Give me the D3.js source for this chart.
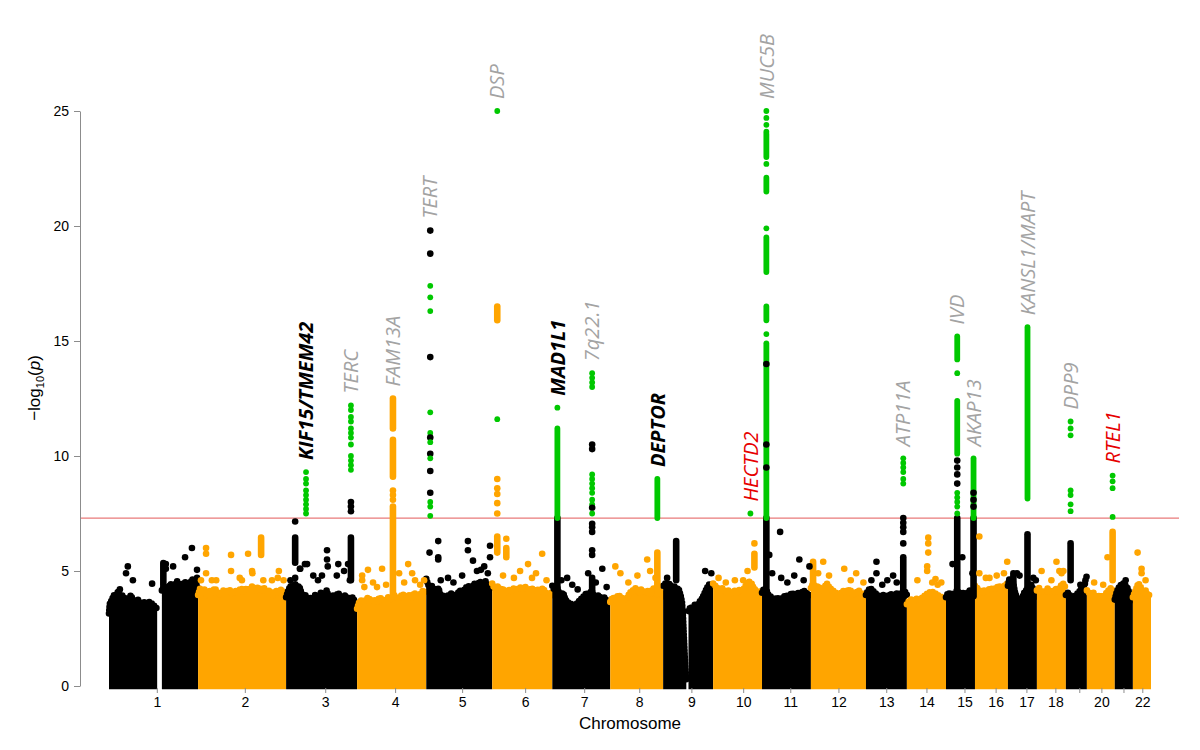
<!DOCTYPE html>
<html>
<head>
<meta charset="utf-8">
<script src="https://cdn.jsdelivr.net/npm/d3@7"></script>
<style>
  body { margin: 0; background: #fff; }
  .axis text { font-family: "Liberation Sans", Arial, sans-serif; font-size: 14px; fill: #000; }
  .axis path, .axis line { stroke: #8c8c8c; }
  .lab { font-family: "Open Sans", "Noto Sans", sans-serif; font-style: italic; font-size: 20px; }
</style>
</head>
<body>
<svg id="chart" width="1200" height="750"></svg>
<script>
// chromosomes (lengths in Mb, as spanned in the plot)
const chrNames = ["1","2","3","4","5","6","7","8","9","10","11","12","13","14","15","16","17","18","19","20","21","22"];
const chrLengths = [246,243,196,191,182,166,160,146,138,135,135,152,113,108,80,91,80,80,58,77,50,50];
// tick position inside each chromosome (Mb)
const chrTickPos = [132,129,108,105,99,91,88,80,78,83,78,76,56,54,51,57,51,51,37,40,24,26];
const hiddenTicks = ["19","21"];
const yTicks = [0,5,10,15,20,25];
const threshold = 7.3; // -log10(5e-8)

// top of the dense cloud of SNPs, per chromosome: [pos Mb, -log10 p], null = gap
const bgEnvelope = [
  [[0,3.3],[2,3.7],[8,3.9],[14,4.1],[20,3.9],[25,4.3],[30,4.0],[36,4.1],[42,3.9],[48,4.0],[54,3.8],[60,4.1],[66,3.9],[72,3.8],[80,3.9],[88,3.7],[96,3.8],[104,3.7],[112,3.8],[120,3.7],[127,3.6],[133,3.5],[135,null],[146,4.3],[152,4.5],[158,4.3],[164,4.4],[170,4.6],[176,4.4],[182,4.5],[188,4.7],[194,4.4],[200,4.6],[206,4.5],[212,4.7],[218,4.4],[224,4.6],[230,4.8],[236,4.5],[241,4.6],[246,4.3]],
  [[0,4.1],[6,4.4],[12,4.2],[18,4.35],[24,4.1],[30,4.3],[38,4.2],[46,4.4],[54,4.2],[62,4.1],[70,4.3],[78,4.2],[86,4.35],[94,4.15],[102,4.3],[110,4.2],[118,4.4],[126,4.25],[134,4.4],[142,4.3],[150,4.5],[158,4.3],[166,4.45],[174,4.3],[182,4.4],[190,4.25],[198,4.3],[206,4.1],[214,4.3],[222,4.2],[230,4.35],[238,4.1],[243,4.0]],
  [[0,4.0],[6,4.3],[12,4.5],[18,4.3],[24,4.6],[30,4.4],[36,4.5],[42,4.2],[48,4.0],[54,4.1],[60,3.9],[66,4.0],[72,3.85],[80,4.1],[88,3.9],[96,4.2],[104,4.0],[112,4.3],[120,3.9],[128,4.1],[136,4.0],[144,4.2],[152,3.9],[160,4.1],[168,4.0],[176,3.9],[184,4.0],[190,3.8],[196,3.7]],
  [[0,3.5],[6,3.8],[14,3.9],[22,3.8],[30,4.0],[38,3.85],[46,3.9],[54,3.8],[62,4.0],[70,3.9],[78,3.85],[86,4.0],[94,3.9],[102,4.1],[110,3.95],[118,4.0],[126,4.15],[134,3.95],[142,4.1],[150,4.0],[158,4.2],[166,4.0],[174,4.1],[182,4.3],[191,4.2]],
  [[0,4.8],[4,4.6],[10,4.4],[16,4.5],[22,4.3],[28,4.2],[34,4.4],[40,4.0],[46,4.1],[52,3.95],[58,4.1],[64,4.0],[70,4.2],[76,4.0],[84,4.1],[92,4.3],[100,4.2],[108,4.4],[116,4.5],[124,4.3],[132,4.6],[140,4.5],[148,4.7],[156,4.5],[164,4.7],[172,4.4],[178,4.5],[182,4.3]],
  [[0,4.6],[6,4.4],[14,4.5],[20,4.3],[28,4.4],[36,4.2],[44,4.35],[52,4.25],[60,4.4],[68,4.3],[76,4.45],[84,4.35],[92,4.45],[100,4.3],[108,4.4],[116,4.3],[124,4.35],[132,4.25],[140,4.4],[148,4.2],[156,4.1],[162,4.2],[166,4.0]],
  [[0,4.5],[6,4.3],[12,4.5],[18,4.2],[24,4.1],[30,4.2],[36,3.9],[42,3.8],[48,3.7],[54,3.75],[60,3.6],[66,3.7],[72,3.8],[78,3.9],[84,4.0],[90,4.1],[96,4.2],[102,4.0],[108,4.3],[114,4.1],[120,4.0],[128,4.1],[136,3.9],[144,4.0],[152,3.8],[160,3.7]],
  [[0,3.8],[6,4.0],[14,3.9],[22,4.1],[30,4.0],[38,3.9],[46,3.95],[54,4.2],[62,4.3],[70,4.4],[78,4.2],[86,4.35],[94,4.2],[102,4.3],[110,4.1],[118,4.4],[126,4.3],[134,4.4],[140,4.2],[146,4.0]],
  [[0,4.5],[6,4.6],[12,4.4],[18,4.6],[24,4.4],[30,4.5],[36,4.3],[42,4.4],[48,4.1],[52,3.8],[55,3.1],[58,2.0],[61,1.0],[64,0.4],[66,null],[70,3.4],[76,3.6],[82,3.5],[88,3.7],[94,3.6],[100,3.8],[106,3.9],[112,4.1],[118,4.3],[124,4.5],[130,4.6],[138,4.5]],
  [[0,4.6],[6,4.5],[12,4.4],[18,4.3],[26,4.4],[34,4.2],[42,4.3],[50,4.15],[58,4.3],[66,4.2],[74,4.35],[82,4.3],[90,4.5],[98,4.7],[106,4.6],[112,4.4],[118,4.3],[124,4.2],[130,4.3],[135,4.1]],
  [[0,4.2],[6,4.4],[12,4.3],[18,4.1],[26,4.0],[34,3.9],[42,4.0],[50,3.85],[58,4.0],[66,4.1],[74,4.0],[82,4.2],[90,4.1],[98,4.2],[106,4.1],[114,4.3],[122,4.2],[130,4.1],[135,4.0]],
  [[0,4.4],[6,4.6],[12,4.4],[20,4.5],[28,4.3],[36,4.4],[44,4.6],[52,4.4],[60,4.3],[68,4.2],[76,4.1],[84,4.2],[92,4.3],[100,4.25],[108,4.35],[116,4.1],[124,4.2],[132,4.3],[140,4.1],[146,4.2],[152,4.0]],
  [[0,4.1],[6,4.3],[12,4.4],[18,4.3],[24,4.2],[32,4.1],[40,4.0],[48,4.1],[56,4.0],[64,4.1],[72,4.15],[80,4.1],[88,4.2],[96,4.1],[104,4.3],[110,4.2],[113,4.1]],
  [[0,3.7],[6,3.85],[12,3.9],[20,3.85],[28,3.95],[36,3.9],[44,4.0],[52,4.1],[60,4.2],[68,4.25],[76,4.2],[84,4.1],[92,4.05],[100,3.95],[108,3.9]],
  [[0,4.0],[6,4.2],[12,4.1],[18,4.2],[24,4.1],[30,4.3],[36,4.2],[42,4.1],[48,4.2],[54,4.1],[60,4.2],[66,4.3],[72,4.25],[80,4.3]],
  [[0,4.5],[6,4.4],[12,4.3],[18,4.2],[26,4.3],[34,4.25],[42,4.4],[50,4.35],[58,4.4],[66,4.5],[74,4.4],[82,4.5],[88,4.6],[91,4.5]],
  [[0,4.5],[4,4.8],[8,4.7],[12,4.8],[16,4.5],[20,4.2],[24,4.0],[28,3.9],[32,3.8],[36,3.8],[40,4.0],[45,4.2],[50,4.3],[54,4.4],[58,4.5],[62,4.6],[66,4.5],[70,4.3],[75,4.1],[80,4.0]],
  [[0,4.3],[6,4.4],[12,4.2],[18,4.3],[24,4.2],[30,4.4],[36,4.2],[42,4.3],[48,4.2],[54,4.4],[60,4.3],[66,4.5],[72,4.6],[76,4.5],[80,4.4]],
  [[0,4.1],[5,4.2],[10,4.1],[16,4.05],[22,4.0],[28,4.1],[34,4.2],[40,4.3],[46,4.5],[52,4.6],[58,4.5]],
  [[0,4.3],[6,4.2],[12,4.1],[18,4.2],[24,4.0],[30,4.1],[36,4.0],[42,4.1],[48,4.0],[54,4.2],[60,4.3],[66,4.4],[72,4.3],[77,4.2]],
  [[0,3.9],[5,4.2],[10,4.4],[15,4.5],[20,4.6],[25,4.6],[30,4.5],[35,4.4],[40,4.2],[45,4.0],[50,3.8]],
  [[0,4.0],[5,4.2],[10,4.4],[15,4.6],[20,4.5],[25,4.3],[30,4.2],[35,4.3],[40,4.1],[45,4.1],[50,4.0]]
];

// runs of overlapping SNPs: [chr, pos Mb, from, to, hit]
const columns = [
  [1,150,4.4,5.35,0],
  [3,25,5.36,6.45,0],[3,179,4.6,6.45,0],
  [4,99,11.2,12.5,0],[4,99,9.1,10.7,0],[4,99,3.9,7.8,0],
  [6,14,15.9,16.5,0],[6,14,5.8,6.5,0],[6,39,5.6,6.0,0],
  [7,14,3.9,7.3,0],[7,110,3.8,4.7,0],
  [8,130,4.0,5.8,0],[9,36,4.6,6.3,0],[10,114,5.15,5.75,0],
  [11,12,3.9,7.3,0],[12,6,4.3,5.4,0],[13,103,4.0,5.6,0],
  [15,31,3.9,7.3,0],[15,76,3.9,7.3,0],
  [17,54,3.9,6.6,0],[17,15,4.1,4.9,0],[19,13,4.6,6.2,0],[20,71,4.6,6.7,0],[2,174,5.7,6.45,0],
  [7,14,7.3,11.2,1],[8,130,7.3,9.0,1],
  [11,12,7.3,14.9,1],[11,12,15.9,16.5,1],[11,12,18.0,19.5,1],[11,12,21.5,22.1,1],[11,12,23.0,24.0,1],
  [15,31,10.1,12.4,1],[15,31,14.2,15.2,1],[15,76,7.3,9.9,1],[17,54,8.15,15.6,1]
];

// single SNPs: [chr, pos Mb, -log10 p, hit]
const points = [
  [1,52,5.2,0],[1,47,4.9,0],[1,66,4.6,0],[1,119,4.45,0],[1,30,4.2,0],[1,157,5.3,0],[1,157,5.1,0],[1,177,5.2,0],[1,210,5.6,0],[1,229,6.0,0],[1,243,5.05,0],[1,243,4.7,0],
  [2,22,6.0,0],[2,22,5.75,0],[2,22,4.9,0],[2,91,5.7,0],[2,91,5.0,0],[2,138,5.75,0],[2,149,5.0,0],[2,223,5.0,0],[2,121,4.6,0],[2,204,4.6,0],[2,38,4.6,0],
  [2,8,4.6,0],[2,50,4.6,0],[2,115,4.7,0],[2,150,4.9,0],[2,180,4.6,0],[2,220,4.7,0],[2,236,4.6,0],
  [3,25,7.15,0],[3,25,4.7,0],[3,113,5.9,0],[3,113,5.5,0],[3,144,5.3,0],[3,171,5.3,0],[3,75,4.8,0],[3,39,5.1,0],[3,58,5.3,0],[3,179,8.0,0],[3,179,7.8,0],[3,179,7.6,0],
  [3,12,4.6,0],[3,38,5.1,0],[3,52,5.3,0],[3,88,4.6,0],[3,99,4.8,0],[3,115,5.2,0],[3,140,4.8,0],[3,160,5.0,0],[3,176,4.6,0],
  [3,55,9.3,1],[3,55,9.0,1],[3,55,8.8,1],[3,55,8.5,1],[3,55,8.3,1],[3,55,8.1,1],[3,55,7.9,1],[3,55,7.7,1],[3,55,7.5,1],
  [3,179,12.2,1],[3,179,12.0,1],[3,179,11.7,1],[3,179,11.5,1],[3,179,11.2,1],[3,179,11.0,1],[3,179,10.8,1],[3,179,10.5,1],[3,179,10.0,1],[3,179,9.8,1],[3,179,9.6,1],[3,179,9.4,1],
  [4,69,5.1,0],[4,141,5.3,0],[4,152,4.9,0],[4,30,5.05,0],[4,14,4.8,0],[4,14,4.6,0],[4,44,4.5,0],[4,174,4.4,0],[4,116,4.9,0],[4,99,8.5,0],[4,99,8.3,0],[4,99,8.1,0],
  [4,20,4.3,0],[4,55,4.3,0],[4,80,4.4,0],[4,130,4.5,0],[4,160,4.6,0],[4,185,4.6,0],
  [5,60,4.7,0],[5,99,4.8,0],[5,115,6.3,0],[5,115,5.9,0],[5,129,5.45,0],[5,151,5.05,0],[5,176,6.1,0],[5,176,5.6,0],[5,9,5.8,0],[5,33,6.3,0],[5,33,5.6,0],[5,33,5.5,0],
  [5,40,4.6,0],[5,75,4.5,0],[5,140,5.0,0],[5,160,5.2,0],[5,170,4.9,0],
  [5,11,19.8,0],[5,11,18.8,0],[5,11,17.4,1],[5,11,16.9,1],[5,11,16.3,1],[5,11,14.3,0],[5,11,11.9,1],[5,11,11.0,1],[5,11,10.8,0],[5,11,10.6,1],[5,11,10.1,0],[5,11,9.9,1],[5,11,9.35,0],[5,11,8.4,0],[5,11,8.0,1],[5,11,7.8,1],[5,11,7.4,1],
  [6,77,5.0,0],[6,99,5.3,0],[6,121,4.9,0],[6,138,5.75,0],[6,39,6.4,0],[6,14,9.0,0],[6,14,8.6,0],[6,14,8.35,0],[6,14,7.95,0],[6,14,7.5,0],[6,14,25.0,1],[6,14,11.6,1],
  [6,30,4.8,0],[6,60,4.7,0],[6,110,4.7,0],[6,150,4.6,0],
  [7,41,4.7,0],[7,55,4.4,0],[7,99,4.9,0],[7,138,5.1,0],[7,14,12.1,1],
  [7,25,4.6,0],[7,70,4.2,0],[7,120,4.5,0],[7,150,4.3,0],
  [7,110,13.6,1],[7,110,13.4,1],[7,110,13.2,1],[7,110,13.0,1],[7,110,10.5,0],[7,110,10.3,0],[7,110,9.2,1],[7,110,9.0,1],[7,110,8.8,1],[7,110,8.6,1],[7,110,8.4,1],[7,110,8.1,1],[7,110,7.9,1],[7,110,7.75,0],[7,110,7.5,1],[7,110,7.05,0],[7,110,6.9,0],[7,110,6.7,0],[7,110,5.9,0],[7,110,5.7,0],
  [8,14,5.2,0],[8,28,4.9,0],[8,102,5.5,0],[8,110,5.0,0],[8,50,4.5,0],[8,75,4.8,0],[8,125,4.7,0],
  [9,11,4.7,0],[9,116,5.0,0],[9,133,4.9,0],
  [10,83,4.6,0],[10,114,6.2,0],[10,15,4.7,0],[10,35,4.5,0],[10,60,4.6,0],[10,95,5.0,0],[10,103,7.5,1],
  [11,20,5.7,0],[11,28,4.9,0],[11,53,4.7,0],[11,89,4.8,0],[11,103,5.5,0],[11,131,5.2,0],[11,50,6.7,0],[11,70,4.5,0],[11,115,4.6,0],
  [11,12,25.0,1],[11,12,24.7,1],[11,12,24.4,1],[11,12,24.1,1],[11,12,22.7,1],[11,12,19.9,1],[11,12,15.3,1],[11,12,14.0,0],[11,12,10.5,0],[11,12,9.5,0],
  [12,34,5.4,0],[12,92,5.1,0],[12,125,4.9,0],[12,20,4.9,0],[12,50,4.8,0],[12,110,4.6,0],[12,145,4.5,0],
  [13,29,5.4,0],[13,29,4.9,0],[13,59,4.6,0],[13,75,4.8,0],[13,15,4.6,0],[13,45,4.4,0],[13,85,4.5,0],
  [13,103,9.9,1],[13,103,9.7,1],[13,103,9.5,1],[13,103,9.3,1],[13,103,9.0,1],[13,103,8.8,1],[13,103,7.3,0],[13,103,7.1,0],[13,103,6.9,0],[13,103,6.7,0],[13,103,6.2,0],
  [14,59,6.45,0],[14,59,6.2,0],[14,59,5.8,0],[14,56,5.2,0],[14,56,5.0,0],[14,29,4.6,0],[14,79,4.65,0],[14,95,4.5,0],[14,70,4.5,0],[14,85,4.4,0],
  [15,18,5.3,0],[15,45,5.6,0],[15,73,4.9,0],
  [15,31,13.6,1],[15,31,9.8,0],[15,31,9.5,0],[15,31,9.2,0],[15,31,8.8,0],[15,31,8.4,1],[15,31,8.2,1],[15,31,8.0,1],[15,31,7.8,1],[15,31,7.5,1],
  [15,76,8.4,0],[15,76,8.1,0],[15,76,7.8,0],
  [16,12,6.5,0],[16,12,4.9,0],[16,40,4.7,0],[16,89,5.4,0],[16,30,4.7,0],[16,60,4.8,0],[16,80,4.9,0],
  [17,70,4.7,0],[17,77,4.6,0],[17,25,4.9,0],[17,32,4.8,0],
  [18,13,5.0,0],[18,54,5.4,0],[18,62,5.0,0],[18,73,5.0,0],[18,30,4.1,0],[18,40,4.6,0],[18,68,4.9,0],
  [19,40,4.4,0],[19,54,4.6,0],[19,57,4.75,0],
  [19,13,11.5,1],[19,13,11.2,1],[19,13,10.9,1],[19,13,8.5,1],[19,13,8.3,1],[19,13,7.9,1],[19,13,7.6,1],
  [20,57,5.6,0],[20,20,4.5,0],[20,45,4.4,0],[20,71,9.15,1],[20,71,8.9,1],[20,71,8.6,1],[20,71,7.35,1],
  [21,30,4.6,0],
  [22,13,5.8,0],[22,24,5.1,0],[22,24,4.9,0],[22,35,4.6,0]
];

// gene labels: [text, chr, pos Mb, kind]  b = bold black, g = grey, r = red
const labels = [
  ["KIF15/TMEM42",3,55,"b"],["TERC",3,179,"g"],["FAM13A",4,99,"g"],["TERT",5,11,"g"],
  ["DSP",6,14,"g"],["MAD1L1",7,14,"b"],["7q22.1",7,110,"g"],["DEPTOR",8,130,"b"],
  ["HECTD2",10,103,"r"],["MUC5B",11,12,"g"],["ATP11A",13,103,"g"],["IVD",15,31,"g"],
  ["AKAP13",15,76,"g"],["KANSL1/MAPT",17,54,"g"],["DPP9",19,13,"g"],["RTEL1",20,71,"r"]
];

const svg = d3.select("#chart");
const plotLeft = 80, plotRight = 1179;
const chrStart = Array.from(d3.cumsum([0, ...chrLengths]));
const x = d3.scaleLinear().domain([0, d3.sum(chrLengths)]).range([109, 1151]);
const y = d3.scaleLinear().domain([0, 25]).range([686, 111]);
const gx = (chr, pos) => x(chrStart[chr - 1] + pos);
const chrColor = chr => chr % 2 === 1 ? "#000000" : "#ffa500";
const hitColor = "#00c800";
const r = 3.3, rHit = 2.9;

// dense cloud: filled body plus a beaded top edge
const cloud = svg.append("g");
bgEnvelope.forEach((env, i) => {
  const chr = i + 1;
  const area = d3.area()
    .defined(d => d[1] !== null)
    .x(d => gx(chr, d[0]))
    .y0(y(0) + r)
    .y1(d => y(d[1]) + r);
  const top = d3.line()
    .defined(d => d[1] !== null)
    .x(d => gx(chr, d[0]))
    .y(d => y(d[1]) + r);
  cloud.append("path").attr("d", area(env)).attr("fill", chrColor(chr));
  cloud.append("path").attr("d", top(env))
    .attr("fill", "none")
    .attr("stroke", chrColor(chr))
    .attr("stroke-width", 2 * r)
    .attr("stroke-linecap", "round")
    .attr("stroke-dasharray", "0 3.2");
});

// genome-wide significance
svg.append("line")
  .attr("x1", plotLeft).attr("x2", plotRight)
  .attr("y1", y(threshold)).attr("y2", y(threshold))
  .attr("stroke", "#e97a7a").attr("stroke-width", 1.2);

// columns of SNPs
svg.append("g").selectAll("line")
  .data(columns)
  .join("line")
  .attr("x1", d => gx(d[0], d[1])).attr("x2", d => gx(d[0], d[1]))
  .attr("y1", d => y(d[2])).attr("y2", d => y(d[3]))
  .attr("stroke", d => d[4] ? hitColor : chrColor(d[0]))
  .attr("stroke-width", d => d[4] ? 2 * rHit : 2 * r)
  .attr("stroke-linecap", "round");

// single SNPs
svg.append("g").selectAll("circle")
  .data(points)
  .join("circle")
  .attr("cx", d => gx(d[0], d[1]))
  .attr("cy", d => y(d[2]))
  .attr("r", d => d[3] ? rHit : r)
  .attr("fill", d => d[3] ? hitColor : chrColor(d[0]));

// gene labels
const labStyle = {
  b: { fill: "#000", weight: 700 },
  g: { fill: "#a3a3a3", weight: 400 },
  r: { fill: "#e60000", weight: 400 }
};
labels.forEach(([gene, chr, pos, kind]) => {
  const vals = points.filter(p => p[0] === chr && p[1] === pos).map(p => p[2])
    .concat(columns.filter(c => c[0] === chr && c[1] === pos).map(c => c[3]));
  const tx = gx(chr, pos), ty = y(d3.max(vals)) - 12;
  svg.append("text")
    .attr("class", "lab")
    .attr("transform", `translate(${tx},${ty}) rotate(-90)`)
    .attr("dy", "0.36em")
    .attr("fill", labStyle[kind].fill)
    .attr("font-weight", labStyle[kind].weight)
    .text(gene);
});

// axes
svg.append("g")
  .attr("class", "axis")
  .attr("transform", `translate(${plotLeft},0)`)
  .call(d3.axisLeft(y).tickValues(yTicks).tickSize(6).tickPadding(5).tickSizeOuter(0));

const tickPos = chrTickPos.map((p, i) => chrStart[i] + p);
const xAxis = svg.append("g")
  .attr("class", "axis")
  .attr("transform", `translate(0,${y(0) + 2})`)
  .call(d3.axisBottom(x).tickValues(tickPos).tickSize(5).tickPadding(4)
    .tickFormat((d, i) => hiddenTicks.includes(chrNames[i]) ? "" : chrNames[i]));
xAxis.select(".domain").remove();

svg.append("text")
  .attr("x", 630).attr("y", 729)
  .attr("text-anchor", "middle")
  .attr("font-family", "Liberation Sans, Arial, sans-serif")
  .attr("font-size", 17)
  .text("Chromosome");

const ylab = svg.append("text")
  .attr("transform", "translate(40,388) rotate(-90)")
  .attr("text-anchor", "middle")
  .attr("font-family", "Liberation Sans, Arial, sans-serif")
  .attr("font-size", 17);
ylab.append("tspan").text("\u2212log");
ylab.append("tspan").attr("font-size", 11).attr("dy", 4).text("10");
ylab.append("tspan").attr("dy", -4).text("(");
ylab.append("tspan").attr("font-style", "italic").text("p");
ylab.append("tspan").text(")");
</script>
</body>
</html>
